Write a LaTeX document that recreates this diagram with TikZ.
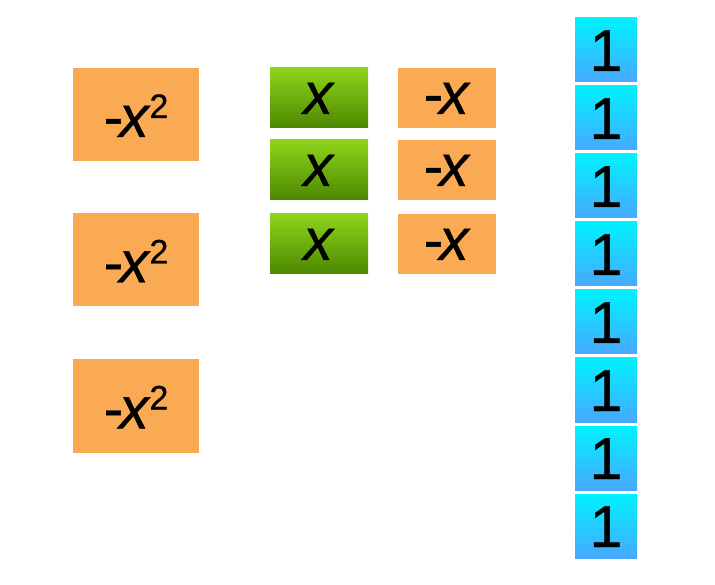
\documentclass[tikz,border=0pt]{standalone}
\usepackage{fontspec}
\setmainfont[FakeBold=0.6,ItalicFeatures={FakeBold=0.6}]{Liberation Sans}
\definecolor{boxorange}{HTML}{F9AA53}
\definecolor{greentop}{HTML}{8ED41B}
\definecolor{greenbot}{HTML}{4C8800}
\definecolor{bluetop}{HTML}{00F2FF}
\definecolor{bluebot}{HTML}{48A8FF}
\newcommand{\negx}{-\kern-4pt\textit{x}}
\newcommand{\sqx}{\negx\kern-1pt\raisebox{19pt}{\fontsize{34}{34}\selectfont 2}}
\begin{document}
\begin{tikzpicture}[x=1pt,y=-1pt,
  every node/.style={inner sep=0pt,outer sep=0pt,font=\fontsize{59}{59}\selectfont},
  bigbox/.style={fill=boxorange,minimum width=126pt,minimum height=93pt,text height=45pt,text depth=0pt},
  xbox/.style={top color=greentop,bottom color=greenbot,minimum width=98pt,minimum height=60pt,text height=32pt,text depth=0pt},
  negbox/.style={fill=boxorange,minimum width=98pt,minimum height=60pt,text height=32pt,text depth=0pt},
  onebox/.style={top color=bluetop,bottom color=bluebot,minimum width=62pt,minimum height=64pt,text height=42pt,text depth=0pt}]
\useasboundingbox (0,0) rectangle (715,585);
\fill[white] (0,0) rectangle (715,585);
% -x^2 boxes
\node[bigbox] (sq1) at (136,114.5) {\sqx};
\node[bigbox] (sq2) at (136,260) {\sqx};
\node[bigbox] (sq3) at (136,406) {\sqx};
% x boxes
\node[xbox] (x1) at (319,98) {\textit{x}};
\node[xbox] (x2) at (319,170) {\textit{x}};
\node[xbox] (x3) at (319,244) {\textit{x}};
% -x boxes
\node[negbox] (n1) at (447,98) {\negx};
\node[negbox] (n2) at (447,170) {\negx};
\node[negbox] (n3) at (447,244) {\negx};
% unit boxes
\foreach \i in {0,...,7}{
  \node[onebox] (u\i) at (606,{50+68*\i}) {1};
}
\end{tikzpicture}
\end{document}
